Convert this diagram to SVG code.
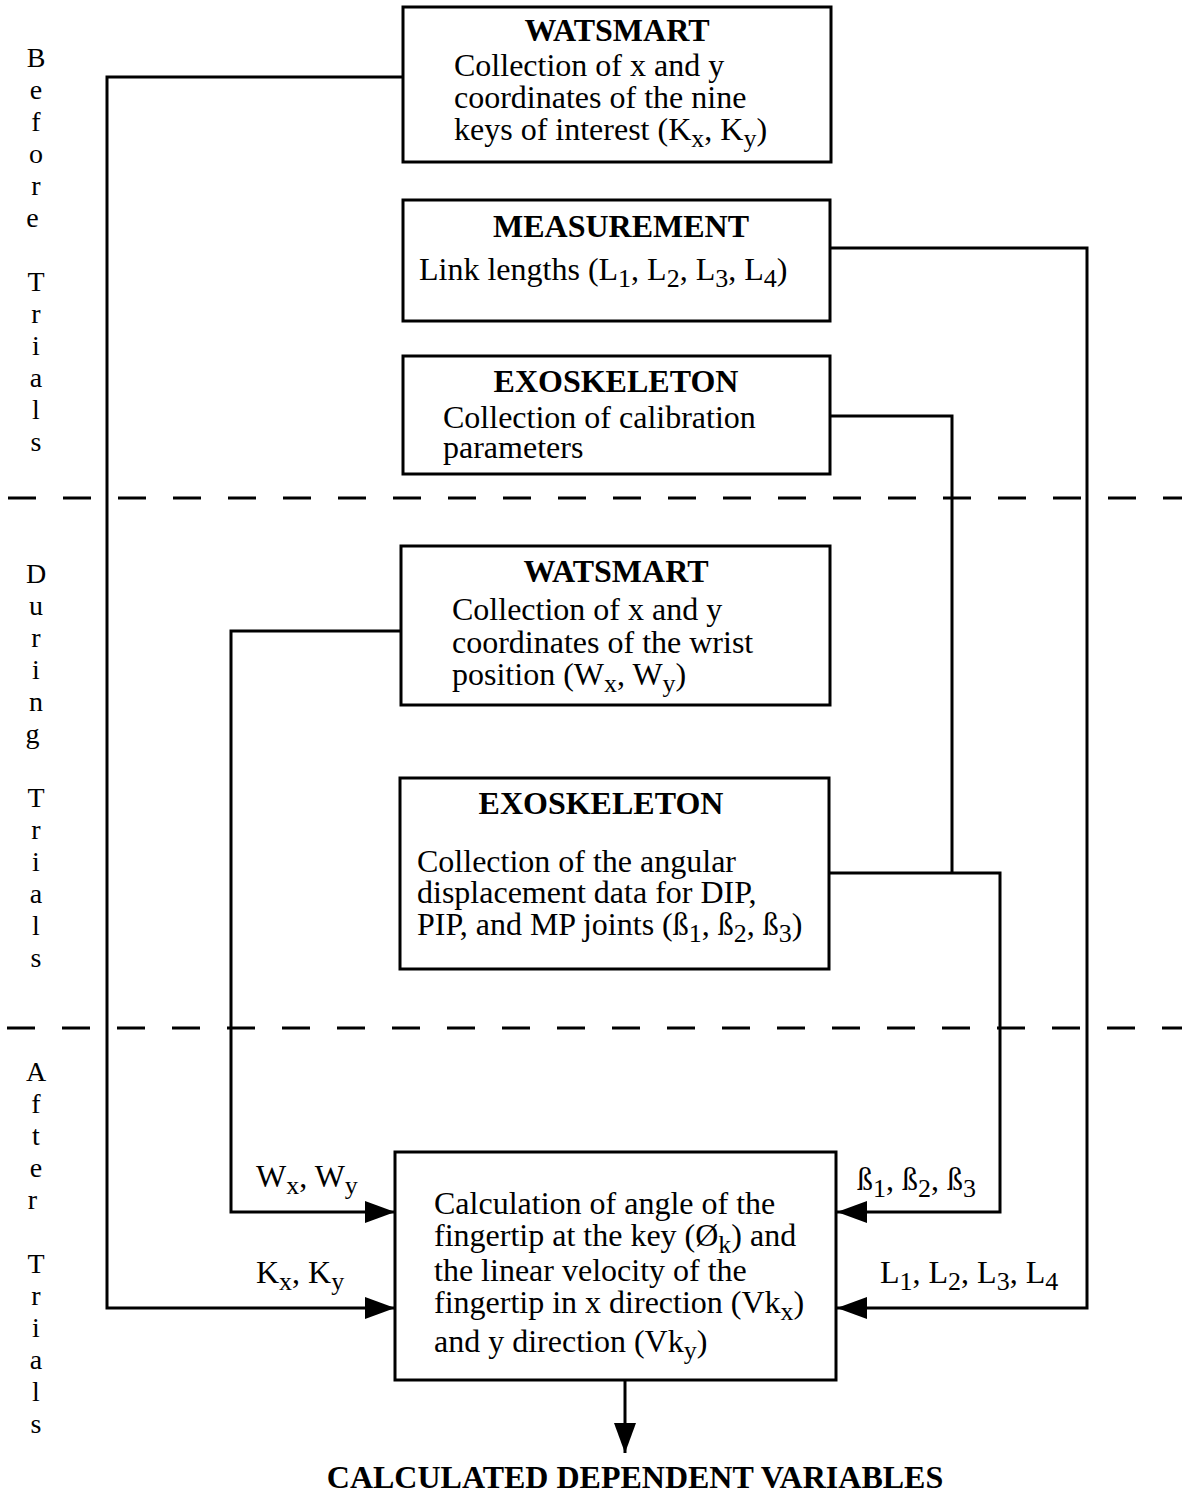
<svg xmlns="http://www.w3.org/2000/svg" width="1182" height="1501" viewBox="0 0 1182 1501">
<style>
  .box { fill: #ffffff; stroke: #000000; stroke-width: 3; }
  .t { font-family: "Liberation Serif", "Times New Roman", serif; font-size: 32px; fill: #000000; }
  .title { font-family: "Liberation Serif", "Times New Roman", serif; font-size: 32px; font-weight: bold; fill: #000000; text-anchor: middle; }
  .side { font-family: "Liberation Serif", "Times New Roman", serif; font-size: 28px; fill: #000000; text-anchor: middle; }
  .sub { font-size: 26px; }
  .wire { fill: none; stroke: #000000; stroke-width: 3; }
  .dash { fill: none; stroke: #000000; stroke-width: 3; stroke-dasharray: 28 27; }
</style>
<defs>
  <marker id="ah" viewBox="0 0 30 22" refX="30" refY="11" markerWidth="30" markerHeight="22" orient="auto" markerUnits="userSpaceOnUse">
    <path d="M0,0 L30,11 L0,22 Z" fill="#000000"/>
  </marker>
</defs>
<rect width="1182" height="1501" fill="#ffffff"/>

<g id="phase-dividers">
  <line class="dash" x1="8" y1="498" x2="1182" y2="498"/>
  <line class="dash" x1="7" y1="1028" x2="1182" y2="1028"/>
</g>

<g id="side-labels">
  <text class="side">
    <tspan x="36" y="67">B</tspan><tspan x="36" y="99">e</tspan><tspan x="36" y="131">f</tspan><tspan x="36" y="163">o</tspan><tspan x="36" y="195">r</tspan><tspan x="36" y="227">e</tspan>
    <tspan x="36" y="291">T</tspan><tspan x="36" y="323">r</tspan><tspan x="36" y="355">i</tspan><tspan x="36" y="387">a</tspan><tspan x="36" y="419">l</tspan><tspan x="36" y="451">s</tspan>
  </text>
  <text class="side">
    <tspan x="36" y="583">D</tspan><tspan x="36" y="615">u</tspan><tspan x="36" y="647">r</tspan><tspan x="36" y="679">i</tspan><tspan x="36" y="711">n</tspan><tspan x="36" y="743">g</tspan>
    <tspan x="36" y="807">T</tspan><tspan x="36" y="839">r</tspan><tspan x="36" y="871">i</tspan><tspan x="36" y="903">a</tspan><tspan x="36" y="935">l</tspan><tspan x="36" y="967">s</tspan>
  </text>
  <text class="side">
    <tspan x="36" y="1081">A</tspan><tspan x="36" y="1113">f</tspan><tspan x="36" y="1145">t</tspan><tspan x="36" y="1177">e</tspan><tspan x="36" y="1209">r</tspan>
    <tspan x="36" y="1273">T</tspan><tspan x="36" y="1305">r</tspan><tspan x="36" y="1337">i</tspan><tspan x="36" y="1369">a</tspan><tspan x="36" y="1401">l</tspan><tspan x="36" y="1433">s</tspan>
  </text>
</g>

<g id="connectors">
  <path class="wire" d="M403,77 H107 V1308 H395" marker-end="url(#ah)"/>
  <path class="wire" d="M401,631 H231 V1212 H395" marker-end="url(#ah)"/>
  <path class="wire" d="M830,248 H1087 V1308 H837" marker-end="url(#ah)"/>
  <path class="wire" d="M830,416 H952 V873"/>
  <path class="wire" d="M829,873 H1000 V1212 H837" marker-end="url(#ah)"/>
  <path class="wire" d="M625,1380 V1453" marker-end="url(#ah)"/>
  <text class="t" x="256" y="1187">W<tspan class="sub" dy="7">x</tspan><tspan dy="-7">, W</tspan><tspan class="sub" dy="7">y</tspan></text>
  <text class="t" x="256" y="1283">K<tspan class="sub" dy="7">x</tspan><tspan dy="-7">, K</tspan><tspan class="sub" dy="7">y</tspan></text>
  <text class="t" x="857" y="1190">ß<tspan class="sub" dy="7">1</tspan><tspan dy="-7">, ß</tspan><tspan class="sub" dy="7">2</tspan><tspan dy="-7">, ß</tspan><tspan class="sub" dy="7">3</tspan></text>
  <text class="t" x="880" y="1283">L<tspan class="sub" dy="7">1</tspan><tspan dy="-7">, L</tspan><tspan class="sub" dy="7">2</tspan><tspan dy="-7">, L</tspan><tspan class="sub" dy="7">3</tspan><tspan dy="-7">, L</tspan><tspan class="sub" dy="7">4</tspan></text>
</g>

<g id="watsmart-before">
  <rect class="box" x="403" y="7" width="428" height="155"/>
  <text class="title" x="617" y="41">WATSMART</text>
  <text class="t" x="454" y="76">Collection of x and y</text>
  <text class="t" x="454" y="108">coordinates of the nine</text>
  <text class="t" x="454" y="140">keys of interest (K<tspan class="sub" dy="7">x</tspan><tspan dy="-7">, K</tspan><tspan class="sub" dy="7">y</tspan><tspan dy="-7">)</tspan></text>
</g>

<g id="measurement">
  <rect class="box" x="403" y="200" width="427" height="121"/>
  <text class="title" x="621" y="237">MEASUREMENT</text>
  <text class="t" x="419" y="280">Link lengths (L<tspan class="sub" dy="7">1</tspan><tspan dy="-7">, L</tspan><tspan class="sub" dy="7">2</tspan><tspan dy="-7">, L</tspan><tspan class="sub" dy="7">3</tspan><tspan dy="-7">, L</tspan><tspan class="sub" dy="7">4</tspan><tspan dy="-7">)</tspan></text>
</g>

<g id="exoskeleton-before">
  <rect class="box" x="403" y="356" width="427" height="118"/>
  <text class="title" x="616" y="392">EXOSKELETON</text>
  <text class="t" x="443" y="428">Collection of calibration</text>
  <text class="t" x="443" y="458">parameters</text>
</g>

<g id="watsmart-during">
  <rect class="box" x="401" y="546" width="429" height="159"/>
  <text class="title" x="616" y="582">WATSMART</text>
  <text class="t" x="452" y="620">Collection of x and y</text>
  <text class="t" x="452" y="653">coordinates of the wrist</text>
  <text class="t" x="452" y="685">position (W<tspan class="sub" dy="7">x</tspan><tspan dy="-7">, W</tspan><tspan class="sub" dy="7">y</tspan><tspan dy="-7">)</tspan></text>
</g>

<g id="exoskeleton-during">
  <rect class="box" x="400" y="778" width="429" height="191"/>
  <text class="title" x="601" y="814">EXOSKELETON</text>
  <text class="t" x="417" y="872">Collection of the angular</text>
  <text class="t" x="417" y="903">displacement data for DIP,</text>
  <text class="t" x="417" y="935">PIP, and MP joints (ß<tspan class="sub" dy="7">1</tspan><tspan dy="-7">, ß</tspan><tspan class="sub" dy="7">2</tspan><tspan dy="-7">, ß</tspan><tspan class="sub" dy="7">3</tspan><tspan dy="-7">)</tspan></text>
</g>

<g id="calculation">
  <rect class="box" x="395" y="1152" width="441" height="228"/>
  <text class="t" x="434" y="1214">Calculation of angle of the</text>
  <text class="t" x="434" y="1246">fingertip at the key (Ø<tspan class="sub" dy="7">k</tspan><tspan dy="-7">) and</tspan></text>
  <text class="t" x="434" y="1281">the linear velocity of the</text>
  <text class="t" x="434" y="1313">fingertip in x direction (Vk<tspan class="sub" dy="7">x</tspan><tspan dy="-7">)</tspan></text>
  <text class="t" x="434" y="1352">and y direction (Vk<tspan class="sub" dy="7">y</tspan><tspan dy="-7">)</tspan></text>
</g>

<g id="result">
  <text class="title" x="635" y="1488">CALCULATED DEPENDENT VARIABLES</text>
</g>
</svg>
